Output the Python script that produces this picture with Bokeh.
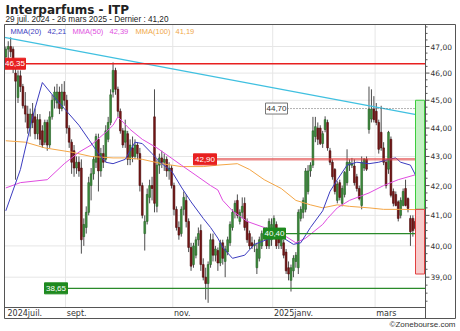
import numpy as np
import pandas as pd
from bokeh.plotting import figure
from bokeh.models import Range1d, LogScale
from bokeh.embed import file_html
from bokeh.resources import INLINE
from bokeh.core.properties import value

# ---------------- data ----------------
title = "Interparfums - ITP"
subtitle = "29 juil. 2024 - 26 mars 2025 - Dernier : 41,20"
copyright_text = "\u00a9Zonebourse.com"

opens = [46.6, 46.9, 47.0, 46.9, 46.0, 45.1, 45.9, 45.5, 44.8, 44.5,
         44.0, 44.5, 44.4, 43.8, 44.3, 43.9, 43.5, 44.2, 43.4, 44.4,
         45.0, 44.9, 45.3, 44.7, 45.3, 45.0, 44.0, 43.5, 43.2, 42.6,
         42.8, 42.6, 40.3, 40.6, 41.1, 42.0, 42.4, 42.8, 43.6, 42.5,
         43.1, 42.9, 43.6, 44.2, 45.3, 46.1, 45.4, 44.6, 43.9, 43.5,
         43.8, 42.9, 43.3, 43.0, 43.4, 43.1, 42.0, 40.4, 40.8, 41.6,
         42.0, 44.4, 41.3, 42.7, 42.95, 42.8, 42.9, 42.5, 42.6, 42.0,
         41.2, 40.6, 40.4, 41.2, 41.5, 40.8, 39.95, 39.4, 39.7, 40.2,
         40.5, 39.4, 39.0, 38.8, 39.4, 40.2, 39.7, 39.85, 39.45, 40.1,
         39.5, 39.8, 40.1, 40.6, 41.1, 41.5, 40.8, 41.1, 41.4, 40.8,
         40.4, 40.1, 40.0, 39.3, 39.6, 40.0, 40.3, 40.5, 40.0, 40.2,
         40.5, 40.7, 40.4, 40.0, 40.1, 39.8, 39.3, 38.9, 39.2, 39.5,
         39.3, 40.9, 41.1, 41.2, 41.8, 42.5, 42.7, 43.7, 44.0, 44.0,
         43.45, 43.95, 44.2, 43.2, 42.8, 42.55, 41.5, 42.1, 41.4, 41.7,
         42.1, 42.7, 42.7, 42.67, 42.3, 41.9, 41.33, 42.6, 42.9, 43.95,
         44.32, 44.68, 44.6, 44.2, 43.85, 43.3, 42.8, 42.56, 43.6, 41.8,
         41.7, 41.45, 41.0, 41.33, 41.9, 41.56, 40.9, 40.9, 40.8, 40.8]
highs = [47.0, 47.2, 47.35, 47.0, 46.3, 46.1, 46.1, 45.6, 45.3, 44.8,
         44.7, 44.9, 44.7, 44.5, 44.5, 44.1, 44.3, 44.3, 44.6, 45.2,
         45.5, 45.6, 45.5, 45.6, 45.7, 45.2, 44.1, 43.6, 43.4, 43.0,
         43.0, 42.9, 40.9, 41.3, 42.3, 42.6, 43.0, 43.8, 43.8, 43.3,
         43.4, 44.1, 44.4, 45.4, 46.4, 46.2, 45.5, 44.7, 44.0, 44.3,
         43.9, 43.6, 43.7, 43.6, 43.5, 43.3, 42.1, 41.0, 41.9, 42.2,
         42.3, 45.4, 42.9, 43.1, 43.2, 43.1, 43.0, 42.8, 42.7, 42.1,
         41.3, 40.8, 41.3, 41.8, 41.7, 40.9, 40.1, 40.1, 40.3, 40.6,
         40.7, 39.6, 39.3, 39.5, 40.4, 40.4, 40.0, 39.95, 40.2, 40.2,
         40.0, 40.3, 40.8, 41.2, 41.5, 41.7, 41.2, 41.6, 41.6, 40.9,
         40.5, 40.3, 40.2, 40.1, 40.3, 40.5, 40.6, 40.6, 40.9, 40.9,
         41.0, 40.8, 40.5, 40.4, 40.2, 39.9, 39.5, 39.4, 39.7, 39.8,
         41.2, 41.3, 41.6, 42.6, 42.7, 42.8, 44.4, 44.4, 44.2, 44.1,
         43.9, 44.42, 44.3, 43.3, 42.9, 42.6, 42.15, 42.2, 42.0, 42.5,
         43.25, 42.9, 42.95, 42.9, 42.4, 42.0, 43.0, 42.95, 43.0, 45.5,
         45.4, 45.15, 44.9, 44.3, 44.8, 43.5, 42.9, 43.9, 43.7, 41.9,
         41.8, 41.5, 41.6, 41.9, 42.2, 41.6, 41.0, 41.0, 40.9, 41.56]
lows = [46.3, 46.5, 46.6, 46.0, 42.2, 44.9, 45.3, 44.7, 44.2, 43.8,
        43.7, 44.0, 43.6, 43.6, 43.4, 43.3, 43.4, 43.2, 43.3, 44.3,
        44.7, 44.7, 44.5, 44.6, 44.8, 43.8, 43.3, 42.4, 42.3, 42.4,
        42.3, 39.75, 40.0, 40.4, 41.0, 41.5, 42.2, 42.6, 41.8, 42.3,
        42.6, 42.8, 43.5, 44.1, 45.1, 45.2, 44.4, 43.8, 43.3, 43.3,
        42.7, 42.7, 42.8, 42.9, 42.9, 41.8, 40.9, 39.85, 40.7, 41.4,
        41.5, 41.1, 41.1, 42.4, 42.6, 42.5, 42.3, 42.2, 41.9, 41.0,
        40.5, 40.2, 40.3, 41.0, 40.6, 39.8, 39.2, 39.3, 39.6, 40.0,
        39.2, 38.9, 38.3, 38.2, 39.3, 39.5, 39.5, 39.2, 39.35, 39.4,
        39.0, 39.7, 40.0, 40.5, 40.9, 40.9, 40.7, 40.9, 40.5, 40.1,
        39.9, 39.9, 39.8, 39.1, 39.5, 39.9, 40.2, 39.9, 39.9, 40.0,
        40.3, 39.9, 39.9, 39.9, 39.6, 39.1, 38.9, 38.55, 39.0, 39.3,
        39.1, 40.8, 40.9, 41.1, 41.7, 42.3, 42.6, 43.5, 43.4, 43.4,
        43.3, 43.85, 43.2, 42.7, 42.2, 41.7, 41.4, 41.5, 41.3, 41.6,
        42.0, 42.5, 42.6, 42.0, 41.8, 41.5, 41.2, 42.5, 42.5, 43.8,
        44.2, 44.2, 44.1, 43.1, 43.2, 42.7, 41.9, 42.4, 41.6, 41.3,
        41.3, 40.8, 40.9, 41.3, 41.3, 41.1, 40.0, 40.3, 40.5, 40.7]
closes = [46.9, 47.0, 46.8, 46.2, 45.7, 45.9, 45.5, 44.8, 44.5, 44.0,
          44.5, 44.2, 43.8, 44.3, 43.6, 43.4, 44.2, 43.4, 44.4, 45.0,
          45.3, 45.3, 44.7, 45.3, 45.0, 44.0, 43.5, 42.8, 42.6, 42.8,
          42.5, 40.2, 40.7, 41.1, 42.1, 42.4, 42.9, 43.7, 42.5, 43.1,
          42.8, 43.9, 44.2, 45.2, 46.1, 45.4, 44.6, 43.9, 43.4, 43.9,
          42.9, 43.4, 43.0, 43.4, 43.1, 42.0, 41.0, 40.8, 41.7, 42.0,
          41.9, 41.4, 42.7, 42.95, 42.8, 42.9, 42.5, 42.6, 42.0, 41.2,
          40.6, 40.35, 41.2, 41.6, 40.8, 39.95, 39.35, 40.0, 40.2, 40.4,
          39.4, 39.0, 38.8, 39.4, 40.2, 39.7, 39.9, 39.45, 40.1, 39.6,
          39.9, 40.2, 40.7, 41.1, 41.4, 41.0, 41.1, 41.3, 40.6, 40.2,
          40.0, 40.0, 40.05, 39.9, 40.2, 40.4, 40.5, 40.0, 40.8, 40.7,
          40.9, 40.0, 40.1, 40.3, 39.7, 39.2, 39.1, 39.3, 39.6, 39.7,
          41.1, 41.2, 41.5, 42.5, 42.5, 42.7, 43.9, 44.05, 43.6, 43.45,
          43.8, 44.3, 43.3, 42.8, 42.3, 41.8, 42.05, 41.6, 41.9, 42.45,
          42.8, 42.8, 42.75, 42.1, 41.9, 41.56, 42.8, 42.9, 42.56, 44.68,
          44.68, 44.3, 44.2, 43.25, 43.3, 42.8, 42.0, 43.85, 41.67, 41.4,
          41.33, 40.9, 41.5, 41.8, 41.33, 41.23, 40.46, 40.5, 40.57, 41.2]

# moving averages read at sample trading days (bar numbers)
ma20_day = [0, 6, 11, 15, 20, 24, 30, 34, 38, 41, 44, 49, 53, 56, 60, 64, 68, 72, 76,
            81, 84, 87, 89, 93, 98, 102, 107, 113, 118, 121, 125, 130, 133, 136, 140,
            144, 149, 153, 157, 160, 162, 166, 169]
ma20_val = [41.15, 42.55, 44.4, 45.65, 45.1, 44.7, 44.1, 43.6, 43.1, 42.8, 42.75, 42.9,
            43.5, 43.45, 43.1, 42.75, 42.5, 41.95, 41.45, 40.9, 40.6, 40.25, 39.95, 39.6,
            39.7, 40.05, 40.2, 40.3, 40.05, 40.1, 40.6, 41.15, 41.8, 42.2, 42.7, 42.8,
            42.75, 42.8, 42.9, 42.95, 42.8, 42.7, 42.21]
ma50_day = [0, 6, 17, 24, 30, 35, 41, 44, 46, 51, 56, 62, 67, 72, 78, 84, 87, 89, 93,
            99, 106, 113, 119, 123, 130, 132, 136, 141, 149, 155, 161, 169]
ma50_val = [41.92, 42.1, 42.2, 42.75, 43.15, 43.4, 43.85, 44.1, 44.4, 43.95, 43.6, 43.3,
            43.0, 42.7, 42.35, 42.0, 41.85, 41.5, 41.15, 40.8, 40.6, 40.4, 40.1, 40.25,
            40.7, 40.9, 41.25, 41.5, 41.75, 42.0, 42.2, 42.39]
ma100_day = [0, 8, 16, 27, 35, 44, 49, 56, 64, 72, 81, 87, 95, 100, 106, 113, 119, 125,
             130, 136, 141, 149, 155, 162, 169]
ma100_val = [43.55, 43.5, 43.3, 43.15, 43.0, 42.95, 42.95, 42.9, 42.75, 42.65, 42.65,
             42.7, 42.75, 42.55, 42.2, 41.9, 41.5, 41.35, 41.25, 41.35, 41.3, 41.25,
             41.2, 41.2, 41.19]

legend_names = ["MMA(20)", "MMA(50)", "MMA(100)"]
legend_values = [42.21, 42.39, 41.19]

resistance_levels = [46.35, 42.90]
support_levels = [40.40, 38.65]
recent_high = 44.70
trend_start, trend_end = 47.35, 44.42
target_high, last_close, target_low = 45.00, 41.20, 39.10

ytick_values = [39, 40, 41, 42, 43, 44, 45, 46, 47]
month_starts = ["2024-09", "2024-11", "2025-01", "2025-03"]
month_labels = ["sept.", "nov.", "2025janv.", "mars"]
first_month_label = "2024juil."
holidays = ["2024-12-25", "2024-12-26", "2025-01-01"]

# ---------------- geometry (canvas pixels) ----------------
W, H = 460, 331
FL, FT, FR, FB = 4, 24, 455, 318   # outer chart box
AX = 425                           # right edge of price pane
BAND = 307                         # top of date band
PXB = 2.4375                       # px per trading day
X0 = 5.3                           # canvas x of first bar
K = 1236.4                         # px per unit of ln(price)
P_REF, Y_REF = 47.0, 46.0


def px(cx):
    return (cx - X0) / PXB


def py(cy):
    return float(P_REF * np.exp((Y_REF - cy) / K))


# the frame covers the whole canvas; everything is drawn in data units
p = figure(width=W, height=H, x_range=Range1d(px(0), px(W)),
           y_range=Range1d(py(H), py(0)), y_axis_type="log",
           x_axis_location=None, y_axis_location=None,
           toolbar_location=None, output_backend="svg",
           min_border_left=0, min_border_right=0,
           min_border_top=0, min_border_bottom=0)
p.y_scale = LogScale()
p.background_fill_color = "white"
p.border_fill_color = "white"
p.outline_line_color = None
p.grid.visible = False

XL, XA, XR = px(FL), px(AX), px(FR)
YB, YT, YBAND = py(FB), py(FT), py(BAND)

# dates -> month boundaries
dates = pd.bdate_range("2024-07-29", "2025-03-26")
dates = dates[~dates.isin(pd.to_datetime(holidays))]
per = np.array(dates.strftime("%Y-%m"))
bounds = [int(np.argmax(per == m)) - 0.5 for m in month_starts]

GRID = "#e6e6e6"
p.segment(x0=[XL] * len(ytick_values), x1=[XA] * len(ytick_values),
          y0=ytick_values, y1=ytick_values, line_color=GRID, line_width=1)
p.segment(x0=bounds, x1=bounds, y0=[YBAND] * len(bounds), y1=[YT] * len(bounds),
          line_color=GRID, line_width=1)

# candles
n = len(closes)
idx = np.arange(n)
o = np.array(opens)
c = np.array(closes)
up = c >= o
top = np.maximum(o, c)
bot = np.minimum(o, c)
p.segment(x0=idx, x1=idx, y0=highs, y1=lows, line_color="#4d4d4d", line_width=1)
p.vbar(x=idx[up], width=0.72, top=top[up], bottom=bot[up],
       fill_color="#3f8f3f", line_color="#225f22", line_width=0.6)
p.vbar(x=idx[~up], width=0.72, top=top[~up], bottom=bot[~up],
       fill_color="#7a1818", line_color="#4a0a0a", line_width=0.6)

# moving averages
p.line(ma100_day, ma100_val, line_color="#f4a646", line_width=1)
p.line(ma50_day, ma50_val, line_color="#e04ce0", line_width=1)
p.line(ma20_day, ma20_val, line_color="#3c3cc0", line_width=1)

# trend line
p.line([XL, XA], [trend_start, trend_end], line_color="#40c0e0", line_width=1.2)

# level lines
FONT_SMALL = value("Liberation Sans")
p.segment(x0=[XL], x1=[XA], y0=[resistance_levels[0]], y1=[resistance_levels[0]],
          line_color="#e82020", line_width=1.5)
p.segment(x0=[px(193)], x1=[XA], y0=[resistance_levels[1]], y1=[resistance_levels[1]],
          line_color="#e03c3c", line_alpha=0.6, line_width=2.5)
p.segment(x0=[px(263)], x1=[XA], y0=[support_levels[0]], y1=[support_levels[0]],
          line_color="#2a8a2a", line_width=1.2)
p.segment(x0=[px(44)], x1=[XA], y0=[support_levels[1]], y1=[support_levels[1]],
          line_color="#2a8a2a", line_width=1.2)
p.segment(x0=[px(287)], x1=[XA], y0=[recent_high], y1=[recent_high],
          line_color="#666666", line_width=1, line_dash="1 2")


def fmt(v):
    return f"{v:.2f}".replace(".", ",")


def tag(level, cx0, cx1, fill, line, tcol):
    p.quad(left=[px(cx0)], right=[px(cx1)],
           bottom=[level * np.exp(-5.5 / K)], top=[level * np.exp(5.5 / K)],
           fill_color=fill, line_color=line, line_width=1)
    p.text(x=[(px(cx0) + px(cx1)) / 2], y=[level], text=[fmt(level)],
           text_align="center", text_baseline="middle", text_color=tcol,
           text_font=FONT_SMALL, text_font_size="8px")


tag(resistance_levels[0], FL, 25, "#e82020", "#e82020", "white")
tag(resistance_levels[1], 193, 216, "#e82020", "#e82020", "white")
tag(support_levels[0], 263, 285, "#1f8a1f", "#1f8a1f", "white")
tag(support_levels[1], 44, 67, "#1f8a1f", "#1f8a1f", "white")
tag(recent_high, 265, 287, "white", "#777777", "#333333")

# target boxes at right end
p.quad(left=[px(415)], right=[px(424)], bottom=[last_close], top=[target_high],
       fill_color="#c4f2c4", line_color="#3ccc3c", line_width=1)
p.quad(left=[px(415)], right=[px(424)], bottom=[target_low], top=[last_close],
       fill_color="#f8cccc", line_color="#e04040", line_width=1)

# chart box, right axis and date band
BOX = "#555555"
p.segment(x0=[XL, XL, XL, XR, XA, XL], x1=[XR, XR, XL, XR, XA, XA],
          y0=[YT, YB, YB, YB, YB, YBAND], y1=[YT, YB, YT, YT, YT, YBAND],
          line_color=BOX, line_width=1)
tv = np.arange(38.0, 48.0, 0.25)
tv = tv[(tv > YBAND) & (tv < YT)]
major = np.isclose(tv % 1.0, 0.0)
p.segment(x0=[XA] * len(tv), x1=[px(AX + 4) if m else px(AX + 2) for m in major],
          y0=tv, y1=tv, line_color=BOX, line_width=1)
p.text(x=[px(AX + 5)] * len(ytick_values), y=ytick_values,
       text=[fmt(v) for v in ytick_values], text_align="left", text_baseline="middle",
       text_color="#333333", text_font=value("DejaVu Sans"), text_font_size="7.5px")

yband_mid = py((BAND + FB) / 2 + 0.5)
p.text(x=[px(7)] + [b + 1.2 / PXB for b in bounds], y=[yband_mid] * (len(bounds) + 1),
       text=[first_month_label] + month_labels, text_align="left", text_baseline="middle",
       text_color="#333333", text_font=value("DejaVu Sans"), text_font_size="8px")

# legend
leg_colors = ["#4040c0", "#e050e0", "#f0a848"]
leg_x = [(10, 47), (72, 109), (135, 175)]
for name, val, col, (xn, xv) in zip(legend_names, legend_values, leg_colors, leg_x):
    p.text(x=[px(xn), px(xv)], y=[py(31)] * 2, text=[name, fmt(val)],
           text_align="left", text_baseline="middle", text_color=col,
           text_font=FONT_SMALL, text_font_size="7.5px")

# titles and credit
p.text(x=[px(5)], y=[py(9.5)], text=[title], text_font=value("DejaVu Sans"),
       text_font_style="bold", text_font_size="12px", text_color="#222222",
       text_baseline="middle")
p.text(x=[px(5)], y=[py(19)], text=[subtitle], text_font=FONT_SMALL,
       text_font_size="8.2px", text_color="#222222", text_baseline="middle")
p.text(x=[px(455)], y=[py(323.5)], text=[copyright_text], text_font=FONT_SMALL,
       text_font_size="8px", text_color="#333333", text_align="right",
       text_baseline="middle")

open("out.html", "w").write(file_html(p, INLINE))
